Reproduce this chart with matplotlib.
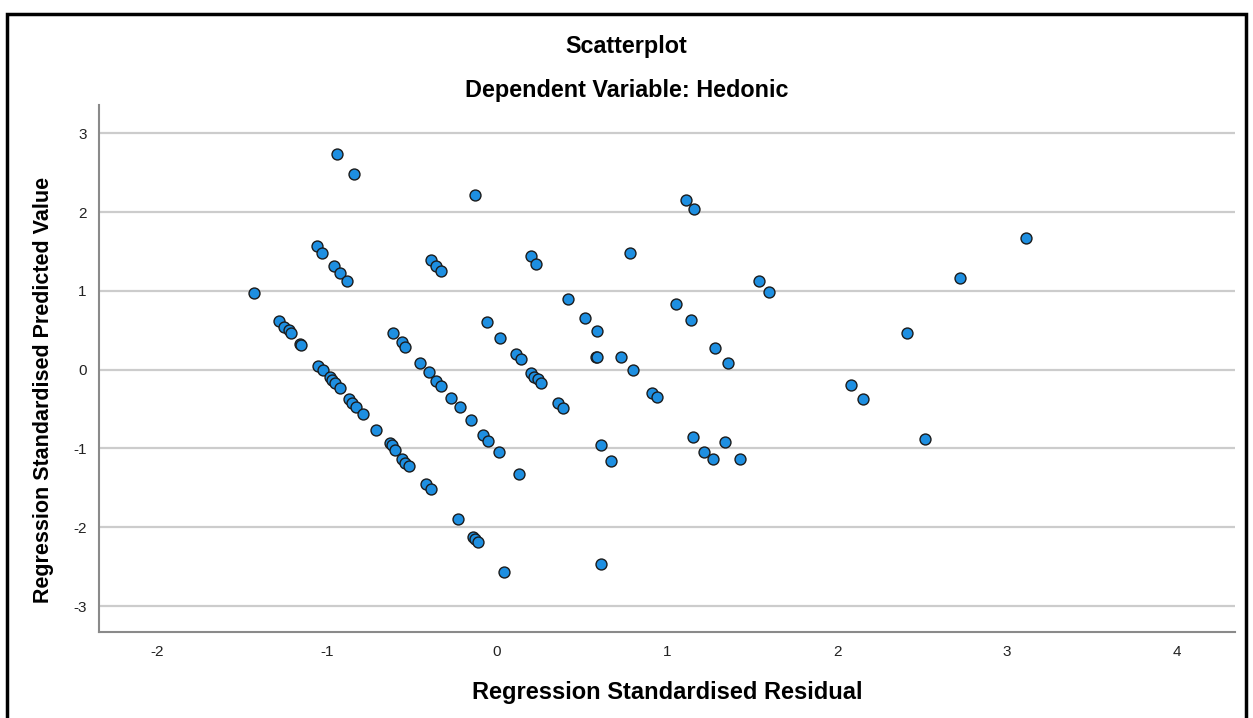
import matplotlib
matplotlib.use('Agg')
import matplotlib.pyplot as plt
from matplotlib.patches import Rectangle

plt.rcParams['font.family'] = ['Liberation Sans', 'DejaVu Sans']
plt.rcParams['axes.unicode_minus'] = False

# standardised residual (x) and standardised predicted value (y)
resid = [
    -0.94, -0.84, -1.06, -1.03, -0.96, -0.92, -0.88, -1.43, -1.28, -1.25,
    -1.22, -1.21, -1.16, -1.15, -1.05, -1.02, -0.98, -0.97, -0.95, -0.92,
    -0.87, -0.85, -0.83, -0.79, -0.71, -0.63, -0.62, -0.60, -0.56, -0.54,
    -0.52, -0.42, -0.39, -0.61, -0.56, -0.54, -0.45, -0.40, -0.36, -0.33,
    -0.27, -0.22, -0.15, -0.08, -0.05, 0.01, 0.13, -0.23, -0.14, -0.13,
    -0.11, 0.04, -0.39, -0.36, -0.33, -0.13, -0.06, 0.02, 0.11, 0.14,
    0.20, 0.22, 0.24, 0.26, 0.36, 0.39, 0.20, 0.23, 0.42, 0.52,
    0.59, 0.58, 0.59, 0.73, 0.80, 0.78, 0.61, 0.67, 0.61, 1.05,
    1.14, 1.11, 1.16, 1.28, 1.36, 0.91, 0.94, 1.15, 1.22, 1.27,
    1.34, 1.43, 1.54, 1.60, 2.08, 2.15, 2.52, 2.41, 2.72, 3.11,
]
pred = [
    2.74, 2.49, 1.57, 1.48, 1.32, 1.23, 1.12, 0.97, 0.62, 0.54,
    0.50, 0.46, 0.33, 0.31, 0.05, -0.01, -0.09, -0.13, -0.17, -0.23,
    -0.37, -0.42, -0.47, -0.56, -0.76, -0.93, -0.95, -1.02, -1.13, -1.18,
    -1.22, -1.45, -1.51, 0.46, 0.35, 0.29, 0.09, -0.03, -0.14, -0.21,
    -0.36, -0.48, -0.64, -0.83, -0.90, -1.04, -1.32, -1.90, -2.13, -2.15,
    -2.19, -2.57, 1.39, 1.31, 1.25, 2.22, 0.60, 0.40, 0.20, 0.13,
    -0.04, -0.09, -0.12, -0.17, -0.42, -0.49, 1.44, 1.34, 0.90, 0.65,
    0.49, 0.16, 0.16, 0.16, -0.01, 1.48, -0.96, -1.16, -2.47, 0.84,
    0.63, 2.15, 2.04, 0.28, 0.09, -0.29, -0.35, -0.85, -1.04, -1.14,
    -0.92, -1.13, 1.12, 0.98, -0.20, -0.37, -0.88, 0.46, 1.16, 1.67,
]

x_ticks = [-2, -1, 0, 1, 2, 3, 4]
y_ticks = [-3, -2, -1, 0, 1, 2, 3]

fig = plt.figure(figsize=(12.53, 7.18), dpi=100)
ax = fig.add_axes([99 / 1253, 86 / 718, 1136 / 1253, 527 / 718])

ax.scatter(resid, pred, s=62, c='#1E8FE1', edgecolors='#1b1b1b',
           linewidths=1.0, zorder=3)

ax.set_xlim(-2.34, 4.34)
ax.set_ylim(-3.33, 3.36)
ax.set_xticks(x_ticks)
ax.set_yticks(y_ticks)
ax.tick_params(length=0, labelsize=11, colors='#222222', pad=9)
ax.yaxis.grid(True, color='#cccccc', linewidth=1.6, zorder=0)
ax.set_axisbelow(True)

for side in ['top', 'right']:
    ax.spines[side].set_visible(False)
for side in ['left', 'bottom']:
    ax.spines[side].set_color('#8a8a8a')
    ax.spines[side].set_linewidth(1.5)

ax.set_xlabel('Regression Standardised Residual', fontsize=17,
              fontweight='bold', labelpad=16)
ax.set_ylabel('Regression Standardised Predicted Value', fontsize=15.5,
              fontweight='bold')
ax.yaxis.set_label_coords(-0.040, 0.46)

fig.text(0.5, 1 - 46 / 718, 'Scatterplot', ha='center', va='center',
         fontsize=16.8, fontweight='bold')
fig.text(0.5, 1 - 91 / 718, 'Dependent Variable: Hedonic', ha='center',
         va='center', fontsize=16.8, fontweight='bold')

# outer frame
fig.patches.append(Rectangle((7 / 1253, -0.05), 1239 / 1253, 1.05 - 14 / 718,
                             transform=fig.transFigure, fill=False,
                             edgecolor='black', linewidth=2.5))

fig.savefig('out.png', dpi=100)
